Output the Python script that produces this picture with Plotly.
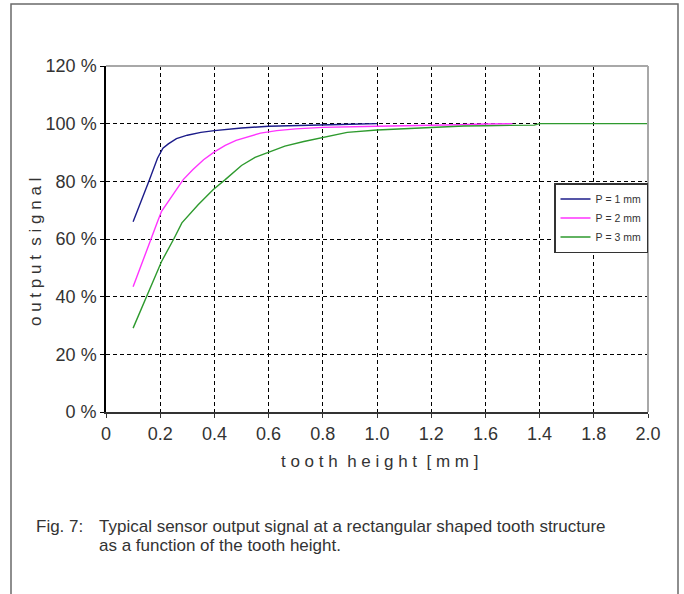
import plotly.graph_objects as go

# ---- data ----
x_p1 = [0.10, 0.13, 0.16, 0.19, 0.21, 0.23, 0.26, 0.30, 0.35, 0.40, 0.50, 0.60, 0.70, 0.80, 0.90, 1.00]
y_p1 = [66.0, 73.0, 80.5, 88.0, 91.5, 93.0, 94.8, 96.0, 97.0, 97.6, 98.5, 99.1, 99.4, 99.6, 99.8, 100.0]

x_p2 = [0.10, 0.13, 0.16, 0.19, 0.205, 0.23, 0.26, 0.285, 0.32, 0.36, 0.40, 0.44, 0.48, 0.53, 0.57,
        0.63, 0.70, 0.80, 0.90, 1.00, 1.10, 1.20, 1.30, 1.40, 1.50]
y_p2 = [43.4, 51.0, 59.0, 66.0, 69.6, 73.0, 77.0, 80.6, 84.0, 87.5, 90.2, 92.5, 94.2, 95.6, 96.7,
        97.6, 98.2, 98.7, 99.0, 99.1, 99.3, 99.4, 99.6, 99.9, 100.0]

x_p3 = [0.10, 0.15, 0.205, 0.25, 0.28, 0.34, 0.395, 0.44, 0.50, 0.55, 0.60, 0.66, 0.73, 0.80, 0.89,
        1.00, 1.10, 1.16, 1.25, 1.32, 1.40, 1.50, 1.58, 1.60, 2.00]
y_p3 = [29.1, 40.0, 52.2, 60.0, 65.6, 71.9, 77.1, 80.6, 85.5, 88.3, 90.1, 92.2, 93.8, 95.3, 97.0,
        97.8, 98.3, 98.6, 99.0, 99.2, 99.3, 99.4, 99.5, 100.0, 100.0]

series_names = ["P\u00a0=\u00a01\u00a0mm", "P\u00a0=\u00a02\u00a0mm", "P\u00a0=\u00a03\u00a0mm"]
series_colors = ["#1c1c8a", "#ff33ff", "#2e9a2e"]

x_tickvals = [0, 0.2, 0.4, 0.6, 0.8, 1.0, 1.2, 1.4, 1.6, 1.8, 2.0]
x_ticktext = ["0", "0.2", "0.4", "0.6", "0.8", "1.0", "1.2", "1.6", "1.4", "1.8", "2.0"]
y_tickvals = [0, 20, 40, 60, 80, 100, 120]
y_ticktext = ["0 %", "20 %", "40 %", "60 %", "80 %", "100 %", "120 %"]

x_title = "t o o t h  h e i g h t  [ m m ]"
y_title = "o u t p u t  s i g n a l"
caption_label = "Fig. 7:"
caption_line1 = "Typical sensor output signal at a rectangular shaped tooth structure"
caption_line2 = "as a function of the tooth height."

# ---- layout geometry (pixels) ----
W, H = 684, 594
L, R, T, B = 106, 648, 66, 412
pw, ph = R - L, B - T


def px(xp):
    return (xp - L) / pw


def py(yp):
    return (B - yp) / ph


def spaced(s):
    return s.replace(" ", "\u00a0")


FONT = "Liberation Sans, Arial, sans-serif"

fig = go.Figure()
for xs, ys, nm, col in zip([x_p1, x_p2, x_p3], [y_p1, y_p2, y_p3], series_names, series_colors):
    fig.add_trace(go.Scatter(x=xs, y=ys, mode="lines", name=nm,
                             line=dict(color=col, width=1.4)))

fig.update_layout(
    width=W, height=H, autosize=False,
    margin=dict(l=L, r=W - R, t=T, b=H - B, pad=0),
    paper_bgcolor="white", plot_bgcolor="white",
    font=dict(family=FONT, color="#333333"),
    showlegend=True,
    legend=dict(x=px(554), y=py(183), xanchor="left", yanchor="top",
                bgcolor="white", bordercolor="#333333", borderwidth=1.5,
                font=dict(family=FONT, size=10.5, color="#333333"),
                itemwidth=30, tracegroupgap=0),
    xaxis=dict(range=[0, 2.0], tickmode="array", tickvals=x_tickvals, ticktext=x_ticktext,
               showgrid=True, gridcolor="black", gridwidth=1.2, griddash="4px,3px",
               showline=True, linecolor="#333333", linewidth=2, zeroline=False,
               ticks="outside", ticklen=4, tickcolor="#333333", tickwidth=1.2,
               tickfont=dict(size=18, color="#333333")),
    yaxis=dict(range=[0, 120], tickmode="array", tickvals=y_tickvals, ticktext=y_ticktext,
               showgrid=True, gridcolor="black", gridwidth=1.2, griddash="4px,3px",
               showline=True, linecolor="black", linewidth=1.5, zeroline=False,
               ticks="outside", ticklen=4, tickcolor="black", tickwidth=1.2,
               tickfont=dict(size=18, color="#333333")),
    shapes=[
        # top and right plot border (light gray)
        dict(type="line", xref="paper", yref="paper", x0=0, x1=1, y0=1, y1=1,
             line=dict(color="#a8a8a8", width=2), layer="above"),
        dict(type="line", xref="paper", yref="paper", x0=1, x1=1, y0=0, y1=1,
             line=dict(color="#a8a8a8", width=2), layer="above"),
        # outer frame
        dict(type="rect", xref="paper", yref="paper",
             x0=px(11), x1=px(678), y0=py(610), y1=py(4),
             line=dict(color="#6a6a6a", width=1.5), fillcolor="rgba(0,0,0,0)", layer="below"),
    ],
    annotations=[
        dict(text=spaced(x_title), xref="paper", yref="paper", x=px(379), y=py(461),
             xanchor="center", yanchor="middle", showarrow=False,
             font=dict(size=17, color="#333333")),
        dict(text=spaced(y_title), xref="paper", yref="paper", x=px(35), y=py(252),
             xanchor="center", yanchor="middle", textangle=-90, showarrow=False,
             font=dict(size=17, color="#333333")),
        dict(text=caption_label, xref="paper", yref="paper", x=px(34), y=py(526),
             xanchor="left", yanchor="middle", showarrow=False,
             font=dict(size=17, color="#333333")),
        dict(text=caption_line1, xref="paper", yref="paper", x=px(97), y=py(526),
             xanchor="left", yanchor="middle", showarrow=False,
             font=dict(size=17, color="#333333")),
        dict(text=caption_line2, xref="paper", yref="paper", x=px(97), y=py(545),
             xanchor="left", yanchor="middle", showarrow=False,
             font=dict(size=17, color="#333333")),
    ],
)

fig.write_html("out.html", config={"displayModeBar": False},
               post_script="document.body.style.margin='0px';document.body.style.overflow='hidden';")
